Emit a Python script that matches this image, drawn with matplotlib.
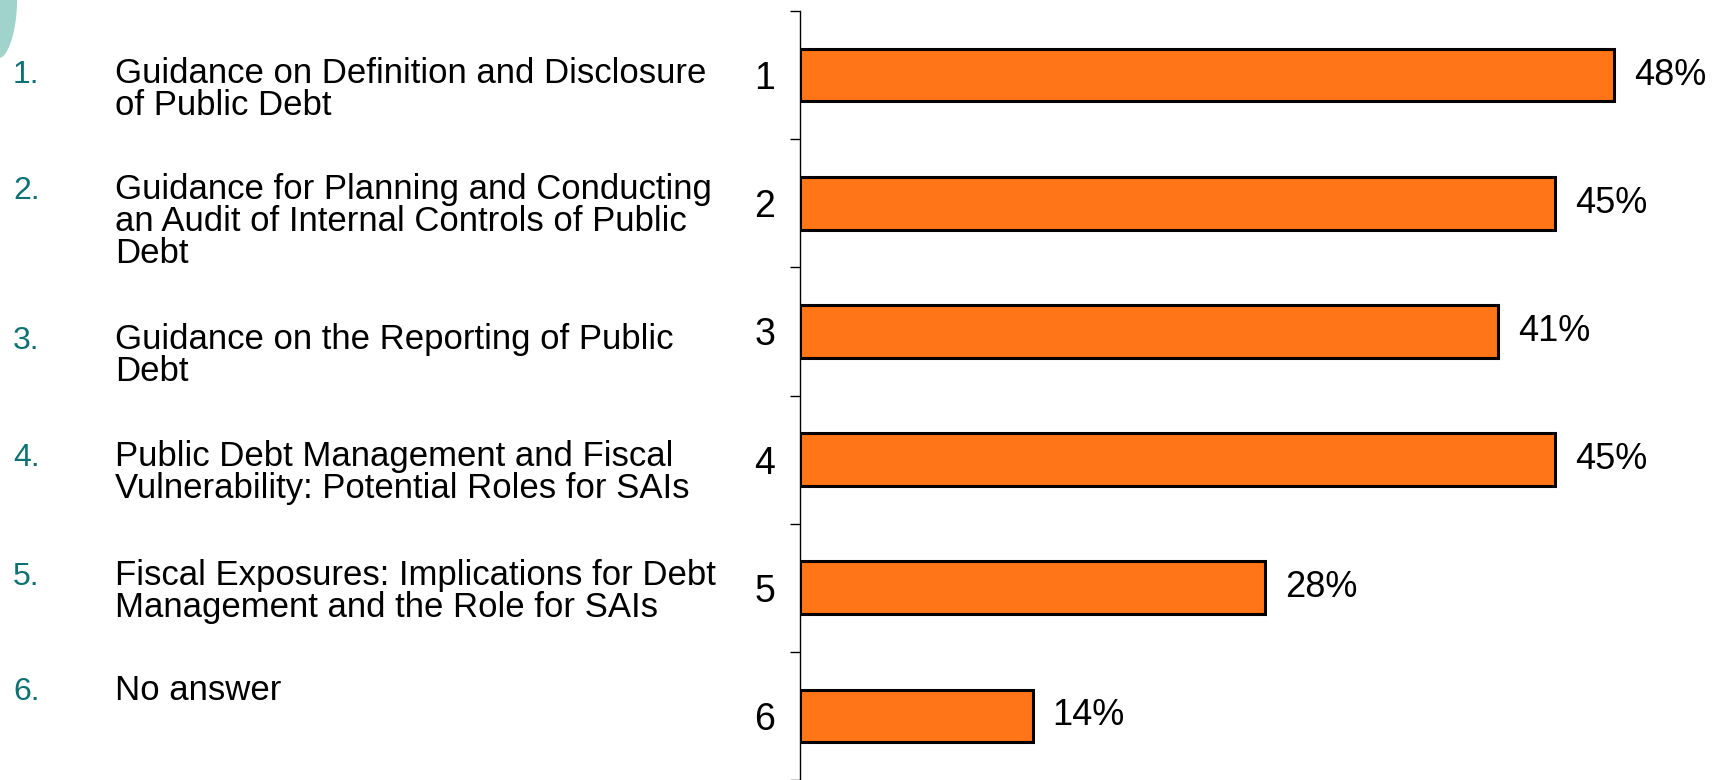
import matplotlib
matplotlib.use('Agg')
import matplotlib.pyplot as plt
from matplotlib.patches import Polygon
import numpy as np

categories = ['1', '2', '3', '4', '5', '6']
values = [48.3, 44.8, 41.4, 44.8, 27.6, 13.8]
value_labels = ['48%', '45%', '41%', '45%', '28%', '14%']
item_numbers = ['1.', '2.', '3.', '4.', '5.', '6.']
item_texts = [
    ['Guidance on Definition and Disclosure', 'of Public Debt'],
    ['Guidance for Planning and Conducting', 'an Audit of Internal Controls of Public', 'Debt'],
    ['Guidance on the Reporting of Public', 'Debt'],
    ['Public Debt Management and Fiscal', 'Vulnerability: Potential Roles for SAIs'],
    ['Fiscal Exposures: Implications for Debt', 'Management and the Role for SAIs'],
    ['No answer'],
]

W, H = 1722, 780
plt.rcParams['font.family'] = ['Liberation Sans', 'DejaVu Sans']
fig = plt.figure(figsize=(W / 100, H / 100), dpi=100)

# decorative teal arc in top-left corner
ys = np.linspace(0, 58, 40)
xs = 17 * np.clip(1 - (ys / 58) ** 2, 0, None) ** 0.6
pts = [(x / W, 1 - yy / H) for x, yy in zip(xs, ys)] + [(0, 1 - 58 / H), (0, 1)]
fig.patches.append(Polygon(pts, closed=True, transform=fig.transFigure,
                           facecolor='#9fd3cc', edgecolor='none'))

px_per_unit = 16.86
ax = fig.add_axes([800 / W, 0, 922 / W, 1 - 11 / H])
y = np.arange(len(categories))
ax.barh(y, values, height=0.41, color='#FF7518', edgecolor='black', linewidth=2.2, zorder=3)
ax.set_ylim(len(categories) - 0.5, -0.5)
ax.set_xlim(0, 922 / px_per_unit)

ax.set_yticks(y)
ax.set_yticklabels(categories, fontsize=27)
ax.tick_params(axis='y', which='major', length=0, pad=18)
ax.set_yticks(np.arange(len(categories) + 1) - 0.5, minor=True)
ax.tick_params(axis='y', which='minor', length=7.2, width=1.0, color='black', direction='out')
for s in ['top', 'right', 'bottom']:
    ax.spines[s].set_visible(False)
ax.spines['left'].set_linewidth(1.0)
ax.xaxis.set_visible(False)

for i, (v, lab) in enumerate(zip(values, value_labels)):
    ax.text(v + 20 / px_per_unit, i, lab, ha='left', va='center', fontsize=26, clip_on=False)

baselines = [83, 199, 349, 466, 585, 700]
pitch = 32
for num, lines, b in zip(item_numbers, item_texts, baselines):
    fig.text(13 / W, 1 - b / H, num, fontsize=23, color='#0f7272', ha='left', va='baseline')
    for k, line in enumerate(lines):
        fig.text(115 / W, 1 - (b + k * pitch) / H, line, fontsize=25, color='black',
                 ha='left', va='baseline')

fig.savefig('out.png', dpi=100, facecolor='white')
